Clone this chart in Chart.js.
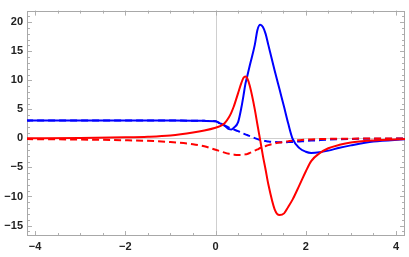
<!DOCTYPE html>
<html>
<head>
<meta charset="utf-8">
<script src="https://cdn.jsdelivr.net/npm/chart.js@4"></script>
<style>
  html, body { margin: 0; padding: 0; background: #fff; }
  #wrap { width: 409px; height: 257px; }
</style>
</head>
<body>
<div id="wrap"><canvas id="c"></canvas></div>
<script>
// sample positions along x
const xs = [-4.2, -3, -2, -1.5, -1, -0.5, -0.25, 0, 0.1, 0.2, 0.3, 0.35, 0.4, 0.5, 0.575, 0.62, 0.66, 0.7, 0.76, 0.87, 0.93, 0.99, 1.05, 1.11, 1.17, 1.31, 1.42, 1.52, 1.61, 1.71, 1.86, 2.0, 2.12, 2.3, 2.5, 2.75, 3.0, 3.5, 4.2];

const redSolid = [0.03, 0.08, 0.18, 0.28, 0.5, 1.0, 1.35, 1.83, 2.1, 2.6, 3.7, 4.45, 5.4, 7.8, 9.6, 10.43, 10.67, 10.4, 9.0, 5.0, 2.3, -0.3, -3.0, -5.4, -7.9, -12.2, -13.2, -12.9, -11.8, -10.5, -8.05, -5.7, -3.9, -2.6, -1.7, -1.1, -0.7, -0.35, -0.12];
const blueSolid = [3.1, 3.1, 3.1, 3.1, 3.08, 3.05, 3.02, 2.95, 2.6, 2.2, 1.6, 1.55, 1.8, 2.8, 5.4, 7.4, 9.3, 10.6, 12.6, 16.1, 18.7, 19.55, 19.17, 18.0, 16.1, 11.7, 8.4, 5.4, 2.6, -0.1, -1.67, -2.3, -2.5, -2.4, -2.1, -1.6, -1.2, -0.55, -0.15];
const redDashed = [-0.12, -0.2, -0.32, -0.42, -0.62, -1.0, -1.35, -1.95, -2.2, -2.45, -2.65, -2.72, -2.78, -2.85, -2.85, -2.8, -2.75, -2.7, -2.5, -2.1, -1.9, -1.65, -1.5, -1.32, -1.15, -0.88, -0.7, -0.6, -0.48, -0.4, -0.3, -0.22, -0.17, -0.12, -0.08, -0.05, -0.04, -0.02, -0.01];
const blueDashed = [3.1, 3.1, 3.1, 3.1, 3.08, 3.05, 3.02, 2.95, 2.6, 2.25, 1.85, 1.7, 1.55, 1.25, 0.95, 0.82, 0.7, 0.58, 0.38, 0.05, -0.12, -0.28, -0.38, -0.45, -0.52, -0.62, -0.67, -0.67, -0.64, -0.6, -0.52, -0.45, -0.38, -0.3, -0.22, -0.15, -0.1, -0.06, -0.03];

const xTicks = [-4, -2, 0, 2, 4];
const yTicks = [-15, -10, -5, 0, 5, 10, 15, 20];

const pts = (ys) => xs.map((x, i) => ({ x: x, y: ys[i] }));
const fmt = (v) => (v < 0 ? '\u2212' + Math.abs(v) : String(v));

const line = (ys, color, dash) => ({
    data: pts(ys),
    borderColor: color,
    borderWidth: 2,
    borderDash: dash,
    pointRadius: 0,
    cubicInterpolationMode: 'monotone',
    fill: false,
});

// Mathematica-style frame with inward ticks and light zero axes
const frame = {
    id: 'frame',
    beforeDatasetsDraw(chart) {
        const { ctx, chartArea: a, scales: { x, y } } = chart;
        ctx.save();
        ctx.lineWidth = 1;
        ctx.strokeStyle = '#cfcfcf';
        ctx.beginPath();
        const x0 = Math.round(x.getPixelForValue(0)) + 0.5;
        const y0 = Math.round(y.getPixelForValue(0)) + 0.5;
        ctx.moveTo(x0, a.top); ctx.lineTo(x0, a.bottom);
        ctx.moveTo(a.left, y0); ctx.lineTo(a.right, y0);
        ctx.stroke();

        ctx.strokeStyle = '#b0b0b0';
        ctx.beginPath();
        for (let v = -4; v <= 4.001; v += 0.5) {
            const px = Math.round(x.getPixelForValue(v)) + 0.5;
            const len = Math.abs(v % 2) < 0.01 ? 5 : 3;
            ctx.moveTo(px, a.bottom); ctx.lineTo(px, a.bottom - len);
            ctx.moveTo(px, a.top); ctx.lineTo(px, a.top + len);
        }
        for (let v = -16; v <= 22; v += 1) {
            const py = Math.round(y.getPixelForValue(v)) + 0.5;
            const len = v % 5 === 0 ? 5 : 3;
            ctx.moveTo(a.left, py); ctx.lineTo(a.left + len, py);
            ctx.moveTo(a.right, py); ctx.lineTo(a.right - len, py);
        }
        ctx.stroke();
        ctx.strokeStyle = '#a8a8a8';
        ctx.strokeRect(Math.round(a.left) + 0.5, Math.round(a.top) + 0.5,
            Math.round(a.right - a.left) - 1, Math.round(a.bottom - a.top) - 1);
        ctx.restore();
    }
};

new Chart(document.getElementById('c'), {
    type: 'line',
    data: {
        datasets: [
            line(redSolid, '#ff0000', []),
            line(blueSolid, '#0000ff', []),
            line(redDashed, '#ff0000', [7, 4]),
            line(blueDashed, '#0000ff', [7, 4]),
        ]
    },
    options: {
        responsive: true,
        maintainAspectRatio: false,
        animation: false,
        layout: { padding: { top: 4, right: 4, left: 0, bottom: 0 } },
        plugins: { legend: { display: false }, tooltip: { enabled: false } },
        scales: {
            x: {
                type: 'linear',
                min: -4.18,
                max: 4.2,
                afterBuildTicks: (s) => { s.ticks = xTicks.map(v => ({ value: v })); },
                afterFit: (s) => { s.height = 21; },
                grid: { display: false, drawTicks: false },
                border: { display: false },
                ticks: {
                    padding: 4,
                    color: '#222',
                    font: { family: 'Liberation Sans', size: 11, weight: 'bold' },
                    callback: (v) => fmt(v),
                    maxRotation: 0,
                }
            },
            y: {
                type: 'linear',
                min: -16.8,
                max: 22,
                afterBuildTicks: (s) => { s.ticks = yTicks.map(v => ({ value: v })); },
                afterFit: (s) => { s.width = 27; },
                grid: { display: false, drawTicks: false },
                border: { display: false },
                ticks: {
                    padding: 4,
                    color: '#222',
                    font: { family: 'Liberation Sans', size: 11, weight: 'bold' },
                    callback: (v) => fmt(v),
                }
            }
        }
    },
    plugins: [frame]
});
</script>
</body>
</html>
